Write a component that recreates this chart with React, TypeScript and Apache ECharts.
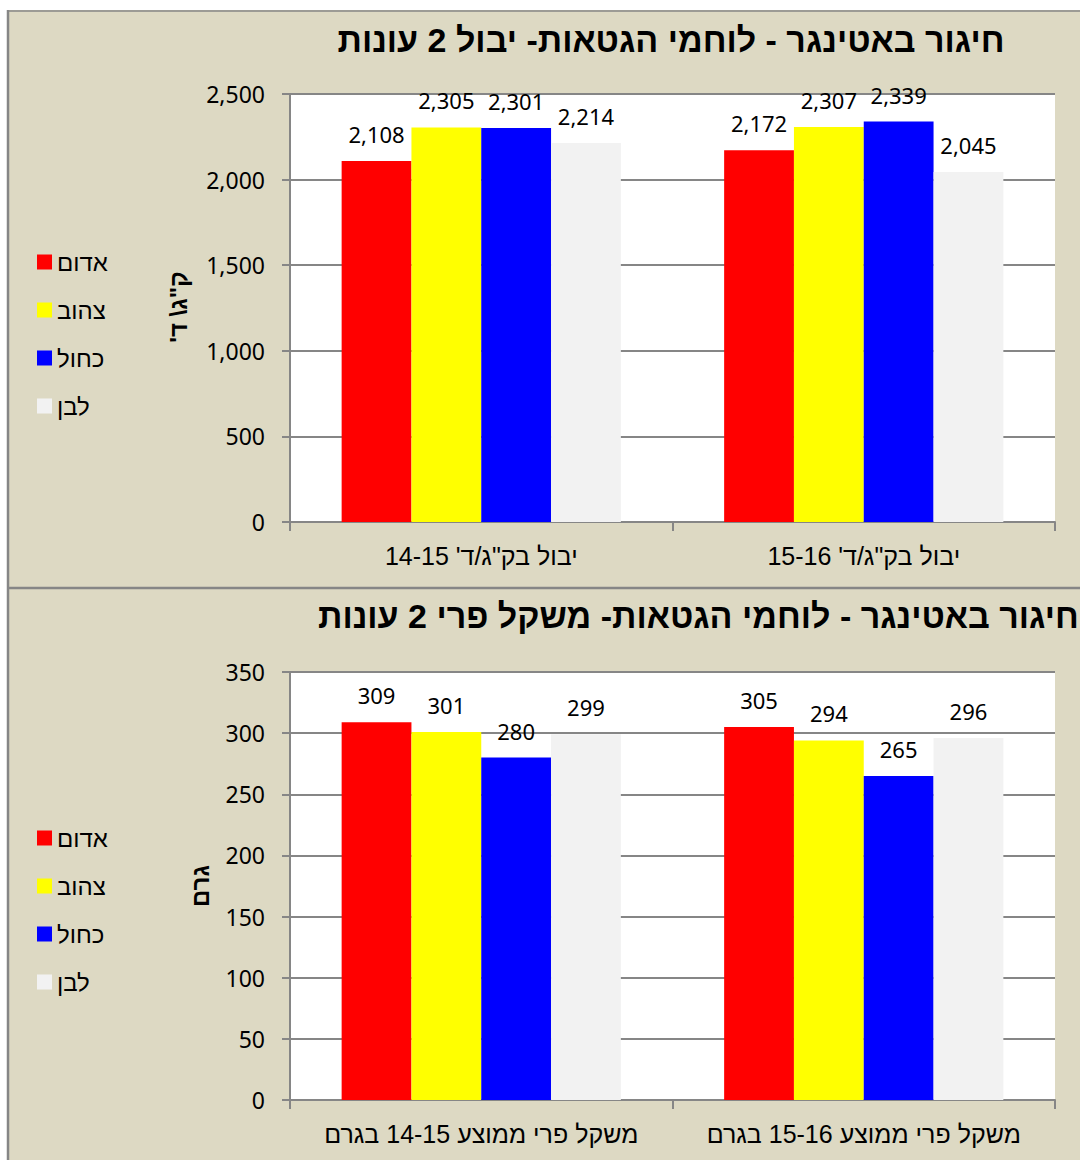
import React, { useEffect, useRef } from "react";
import * as echarts from "echarts";

const RLE = "\u202B";
const PDF = "\u202C";
const rtl = (s: string) => RLE + s + PDF;

const seriesNames = ["אדום", "צהוב", "כחול", "לבן"];
const seriesColors = ["#FF0000", "#FFFF00", "#0000FF", "#F2F2F2"];

const yieldCategories = ["יבול בק\"ג/ד' 14-15", "יבול בק\"ג/ד' 15-16"];
const yieldRed = [2108, 2172];
const yieldYellow = [2305, 2307];
const yieldBlue = [2301, 2339];
const yieldWhite = [2214, 2045];

const weightCategories = ["משקל פרי ממוצע 14-15 בגרם", "משקל פרי ממוצע 15-16 בגרם"];
const weightRed = [309, 305];
const weightYellow = [301, 294];
const weightBlue = [280, 265];
const weightWhite = [299, 296];

const titleTop = "חיגור באטינגר - לוחמי הגטאות- יבול 2 עונות";
const titleBottom = "חיגור באטינגר - לוחמי הגטאות- משקל פרי 2 עונות";
const yNameTop = "ק\"ג\\ ד'";
const yNameBottom = "גרם";

const HEB = "'Liberation Sans', Arial, sans-serif";
const HEB_TITLE = "'Liberation Sans Narrow', 'Liberation Sans', Arial, sans-serif";
const NUM = "'Noto Sans', 'Open Sans', sans-serif";
const GRAY = "#868686";

export default function App() {
  const ref = useRef<HTMLDivElement>(null);
  useEffect(() => {
    document.body.style.margin = "0";
    const chart = echarts.init(ref.current!, undefined, { renderer: "svg" });
    const fmt = (v: number) => v.toLocaleString("en-US");

    const mkSeries = (vals: number[][], idx: number) =>
      vals.map((d, i) => ({
        type: "bar" as const,
        name: seriesNames[i],
        xAxisIndex: idx,
        yAxisIndex: idx,
        data: d,
        barGap: "0%",
        barCategoryGap: "27%",
        itemStyle: { color: seriesColors[i] },
        label: {
          show: true,
          position: "top",
          distance: 16,
          fontSize: 22,
          fontFamily: NUM,
          color: "#000",
          formatter: (p: any) => fmt(p.value),
        },
      }));

    const xAxisBase = (gridIndex: number, data: string[]) => ({
      type: "category" as const,
      gridIndex,
      data: data.map(rtl),
      axisLine: { show: true, lineStyle: { color: GRAY, width: 2 } },
      axisTick: { show: true, length: 9, lineStyle: { color: GRAY, width: 2 } },
      axisLabel: {
        fontSize: 25,
        fontFamily: HEB,
        color: "#000",
        margin: 21,
        interval: 0,
        hideOverlap: false,
      },
    });
    const yAxisBase = (gridIndex: number, max: number, interval: number, useComma: boolean) => ({
      type: "value" as const,
      gridIndex,
      min: 0,
      max,
      interval,
      axisLine: { show: true, lineStyle: { color: GRAY, width: 2 } },
      axisTick: { show: true, length: 8, lineStyle: { color: GRAY, width: 2 } },
      splitLine: { show: true, lineStyle: { color: GRAY, width: 2 } },
      axisLabel: {
        fontSize: 23,
        fontFamily: NUM,
        color: "#000",
        margin: 25,
        formatter: (v: number) => (useComma ? fmt(v) : String(v)),
      },
    });
    const legendBase = (top: number) => ({
      orient: "vertical" as const,
      left: 37,
      top,
      padding: 0,
      itemWidth: 15,
      itemHeight: 15,
      itemGap: 24,
      icon: "rect",
      data: seriesNames,
      textStyle: { fontSize: 24, fontFamily: HEB, color: "#000" },
    });

    const textEl = (
      text: string,
      x: number,
      y: number,
      size: number,
      align: string,
      rotation = 0,
      family = HEB
    ) => ({
      type: "text" as const,
      x,
      y,
      rotation,
      style: {
        text: rtl(text),
        fontSize: size,
        fontWeight: "bold",
        fontFamily: family,
        fill: "#000",
        align,
        verticalAlign: "middle",
        textAlign: align,
        textVerticalAlign: "middle",
      },
    });

    chart.setOption({
      animation: false,
      backgroundColor: "#DDD9C3",
      grid: [
        { left: 290, top: 94, width: 765, height: 428, show: true, backgroundColor: "#fff", borderWidth: 0 },
        { left: 290, top: 672, width: 765, height: 428, show: true, backgroundColor: "#fff", borderWidth: 0 },
      ],
      xAxis: [xAxisBase(0, yieldCategories), xAxisBase(1, weightCategories)],
      yAxis: [yAxisBase(0, 2500, 500, true), yAxisBase(1, 350, 50, false)],
      legend: [legendBase(250), legendBase(826)],
      series: [
        ...mkSeries([yieldRed, yieldYellow, yieldBlue, yieldWhite], 0),
        ...mkSeries([weightRed, weightYellow, weightBlue, weightWhite], 1),
      ],
      graphic: [
        { type: "rect", shape: { x: 0, y: 0, width: 1080, height: 10 }, style: { fill: "#fff" }, silent: true },
        { type: "rect", shape: { x: 0, y: 0, width: 7, height: 1160 }, style: { fill: "#fff" }, silent: true },
        { type: "line", shape: { x1: 8, y1: 11, x2: 1080, y2: 11 }, style: { stroke: GRAY, lineWidth: 1.5 }, silent: true },
        { type: "line", shape: { x1: 8, y1: 10, x2: 8, y2: 1160 }, style: { stroke: GRAY, lineWidth: 2.5 }, silent: true },
        { type: "line", shape: { x1: 8, y1: 588, x2: 1080, y2: 588 }, style: { stroke: GRAY, lineWidth: 2.5 }, silent: true },
        textEl(titleTop, 671, 40, 34, "center", 0, HEB_TITLE),
        textEl(titleBottom, 318, 616, 34, "left", 0, HEB_TITLE),
        textEl(yNameTop, 178, 307, 24, "center", Math.PI / 2),
        textEl(yNameBottom, 200, 886, 24, "center", Math.PI / 2),
      ],
    });
    return () => chart.dispose();
  }, []);
  return <div ref={ref} style={{ width: 1080, height: 1160 }} />;
}
